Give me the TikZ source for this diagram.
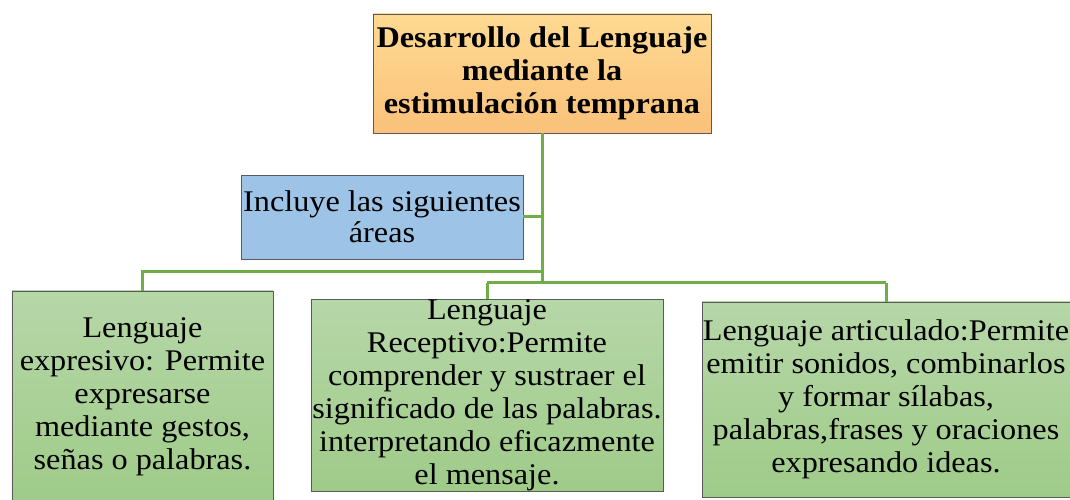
\documentclass[tikz,border=0pt]{standalone}
\usepackage{fontspec}
\setmainfont[FakeStretch=1.075]{Liberation Serif}
\definecolor{conn}{HTML}{70AD47}
\definecolor{edge}{HTML}{5A5A5A}
\definecolor{orT}{HTML}{FFDA92}
\definecolor{orB}{HTML}{FAC17A}
\definecolor{blueF}{HTML}{9DC3E6}
\definecolor{grT}{HTML}{B6D7A8}
\definecolor{grB}{HTML}{9FCB89}
\tikzset{
  box/.style={draw=edge, line width=0.8bp, inner sep=0pt, align=center, text=black,
    font=\fontsize{30bp}{33bp}\selectfont},
  topbox/.style={box, top color=orT, bottom color=orB, font=\bfseries\fontsize{30bp}{33bp}\selectfont},
  bluebox/.style={box, fill=blueF, font=\fontsize{30bp}{31bp}\selectfont},
  greenbox/.style={box, top color=grT, bottom color=grB},
  link/.style={draw=conn, line width=3bp}
}
\begin{document}
\begin{tikzpicture}[x=1bp,y=-1bp]
\useasboundingbox (0,0) rectangle (1070,500);
% nodes
\node[topbox, minimum width=338bp, minimum height=119bp] (top) at (542,73.5)
  {Desarrollo del Lenguaje\\mediante la\\estimulación temprana};
\node[bluebox, minimum width=282bp, minimum height=84bp] (blue) at (382,217)
  {Incluye las siguientes\\áreas};
\node[greenbox, minimum width=261bp, minimum height=212bp] (g1) at (142.5,397)
  {Lenguaje\\expresivo: Permite\\expresarse\\mediante gestos,\\señas o palabras.};
\node[greenbox, minimum width=352bp, minimum height=187bp] (g2) at (487,395.5)
  {Lenguaje\\Receptivo:Permite\\comprender y sustraer el\\significado de las palabras.\\interpretando eficazmente\\el mensaje.};
\node[greenbox, minimum width=368bp, minimum height=195bp] (g3) at (886,399.5)
  {Lenguaje articulado:Permite\\emitir sonidos, combinarlos\\y formar sílabas,\\palabras,frases y oraciones\\expresando ideas.};
% junctions
\coordinate (j1) at (542,272);
\coordinate (j2) at (542,283);
% connectors
\draw[link] (top.south) -- (j2);
\draw[link] (blue.east) -- (blue.east -| top.south);
\draw[link] (j1) -- (j1 -| g1.north) -- (g1.north);
\draw[link] (j2 -| g2.north) -- (j2 -| g3.north);
\draw[link] (j2 -| g2.north) -- (g2.north);
\draw[link] (j2 -| g3.north) -- (g3.north);
\end{tikzpicture}
\end{document}
